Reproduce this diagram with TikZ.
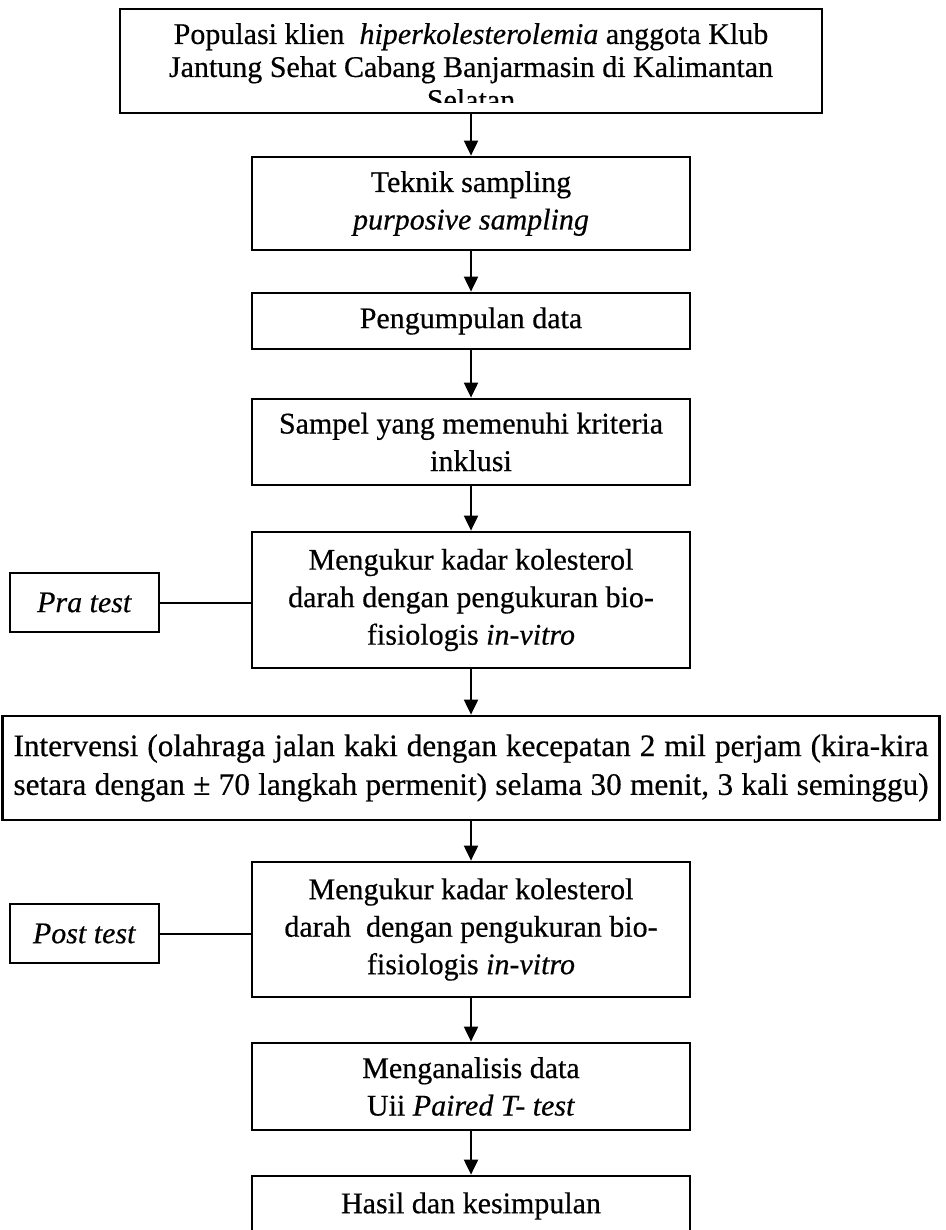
\documentclass[tikz,border=0pt]{standalone}
\usepackage{fontspec}
\setmainfont{Liberation Serif}[UprightFeatures={FakeBold=0.5}, ItalicFeatures={FakeBold=0.5}]
\usetikzlibrary{arrows.meta}
\tikzset{
    kotak/.style={draw, line width=1.1pt, align=center, inner sep=0pt, font=\fontsize{12}{15}\selectfont}, % kotak tiap langkah
    tengah/.style={kotak, minimum width=175.2pt}, % kotak di kolom tengah
    samping/.style={kotak, minimum width=59.6pt, minimum height=23.6pt}, % kotak pra / post test
    panah/.style={line width=0.8pt, -{Triangle[length=6pt,width=5.6pt]}}, % panah antar langkah
    garis/.style={line width=0.8pt}, % garis penghubung tanpa panah
}

\begin{document}
\begin{tikzpicture}[x=0.4pt, y=-0.4pt]
    \useasboundingbox (0,0) rectangle (945,1230);

    % Populasi (baris ketiga terpotong oleh tepi kotak)
    \node[kotak, minimum width=280.8pt, minimum height=41.6pt] (pop) at (471,61) {};
    \begin{scope}
        \clip ([yshift=4.8pt]pop.south west) rectangle (pop.north east);
        \node[anchor=north, align=center, inner sep=0pt, font=\fontsize{12}{13.2}\selectfont] (popteks) at ([yshift=-6pt]pop.north)
            {Populasi klien \ \textit{hiperkolesterolemia} anggota Klub\\
             Jantung Sehat Cabang Banjarmasin di Kalimantan\\
             Selatan};
    \end{scope}

    % Teknik sampling
    \node[tengah, minimum height=37.2pt] (teknik) at (471,203.5) {Teknik sampling\\ \textit{purposive sampling}};

    % Pengumpulan data
    \node[tengah, minimum height=22.4pt] (kumpul) at (471,321) {Pengumpulan data};

    % Sampel
    \node[tengah, minimum height=34.4pt] (sampel) at (471,442) {Sampel yang memenuhi kriteria\\ inklusi};

    % Pra test
    \node[tengah, minimum height=54.4pt] (ukur1) at (471,600) {Mengukur kadar kolesterol\\ darah dengan pengukuran bio-\\ fisiologis \textit{in-vitro}};
    \node[samping] (pra) at (84.5,602.5) {\textit{Pra test}};

    % Intervensi
    \node[kotak, minimum width=374.8pt, minimum height=41.6pt, font=\fontsize{12.5}{15.5}\selectfont] (intervensi) at (471,768)
        {\makebox[366pt][s]{Intervensi (olahraga jalan kaki dengan kecepatan 2 mil perjam (kira-kira}\\
         \makebox[366pt][s]{setara dengan ± 70 langkah permenit) selama 30 menit, 3 kali seminggu)}};

    % Post test
    \node[tengah, minimum height=54pt] (ukur2) at (471,929.5) {Mengukur kadar kolesterol\\ darah \ dengan pengukuran bio-\\ fisiologis \textit{in-vitro}};
    \node[samping] (post) at (84.5,933.5) {\textit{Post test}};

    % Analisis dan hasil
    \node[tengah, minimum height=34.8pt] (analisis) at (471,1086.5) {Menganalisis data\\ Uii \textit{Paired T- test}};
    \node[tengah, minimum height=24pt] (hasil) at (471,1206) {Hasil dan kesimpulan};

    % Panah
    \draw[panah] (pop) -- (teknik);
    \draw[panah] (teknik) -- (kumpul);
    \draw[panah] (kumpul) -- (sampel);
    \draw[panah] (sampel) -- (ukur1);
    \draw[panah] (ukur1) -- (intervensi);
    \draw[panah] (intervensi) -- (ukur2);
    \draw[panah] (ukur2) -- (analisis);
    \draw[panah] (analisis) -- (hasil);

    % Garis ke kotak samping
    \draw[garis] (pra.east) -- (pra.east -| ukur1.west);
    \draw[garis] (post.east) -- (post.east -| ukur2.west);
\end{tikzpicture}
\end{document}
